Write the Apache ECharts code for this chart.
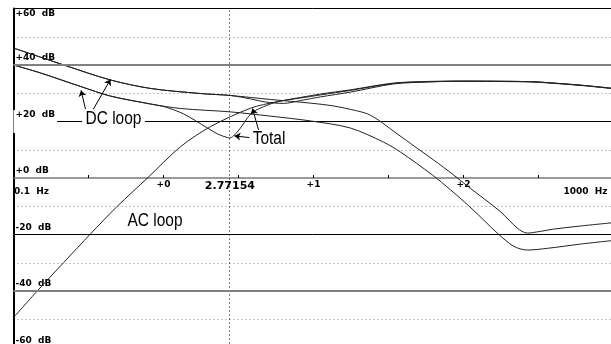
<!DOCTYPE html>
<html><head><meta charset="utf-8">
<script src="https://cdn.jsdelivr.net/npm/echarts@6/dist/echarts.min.js"></script>
<style>html,body{margin:0;padding:0;background:#fff}#c{width:611px;height:344px}</style>
</head><body><div id="c"></div>
<script>
// ---------- data (frequency in Hz, gain in dB) ----------
const dc1Freq = [0.1, 0.151, 0.222, 0.443, 0.819, 1.765, 2.80, 5.17, 9.55, 13.6, 19.0, 22.9, 27.1, 34.1, 44.4, 63.1, 85.8, 106, 177, 228, 266, 325, 398, 601, 1000];
const dc1Db   = [46.0, 42.8, 39.8, 34.7, 31.7, 29.9, 29.2, 27.8, 26.5, 25.5, 23.9, 22.7, 20.5, 16.6, 12.2, 6.4, 1.1, -2.8, -12.0, -17.7, -19.5, -18.9, -18.1, -17.0, -15.8];

const dc2Freq = [0.1, 0.151, 0.280, 0.443, 0.819, 1.30, 2.80, 5.17, 9.55, 17.6, 29.3, 38.0, 61.9, 82.0, 116, 168, 215, 266, 362, 601, 1000];
const dc2Db   = [40.0, 37.2, 32.4, 29.0, 26.2, 24.6, 23.4, 21.9, 20.2, 17.7, 12.7, 9.2, 1.1, -4.2, -11.3, -19.5, -24.1, -25.5, -24.9, -23.4, -22.1];

const acFreq = [0.1, 0.144, 0.326, 0.49, 0.782, 1.30, 2.06, 3.80, 5.74, 11.1, 17.6, 34.2, 60.2, 95.5, 279, 425, 653, 1000];
const acDb   = [-49.4, -40.0, -19.8, -10.1, 0.0, 11.1, 18.2, 24.7, 27.0, 29.7, 31.2, 33.6, 34.2, 34.3, 34.1, 33.5, 32.7, 31.7];

const total1Freq = [0.1, 0.151, 0.280, 0.443, 0.819, 1.031, 1.359, 1.965, 2.291, 2.667, 2.772, 2.929, 3.259, 3.631, 3.981, 4.642, 5.743, 8.17, 11.1, 17.6, 34.2, 60.2, 95.5, 279, 425, 653, 1000];
const total1Db   = [40.0, 37.2, 32.4, 29.0, 26.2, 25.1, 22.7, 17.7, 15.6, 14.3, 14.2, 14.9, 17.7, 21.3, 23.5, 25.2, 27.0, 28.3, 29.4, 31.0, 33.5, 34.1, 34.2, 34.0, 33.4, 32.6, 31.6];

const total2Freq = [0.1, 0.151, 0.222, 0.443, 0.819, 1.765, 2.80, 3.80, 4.78, 6.31, 8.17, 11.1, 17.6, 34.2, 60.2, 95.5, 279, 425, 653, 1000];
const total2Db   = [46.0, 42.8, 39.8, 34.7, 31.7, 29.9, 29.2, 28.0, 26.9, 26.4, 27.4, 28.7, 30.4, 33.3, 34.0, 34.3, 34.1, 33.5, 32.7, 31.7];

// tick labels
const xDecadeLabels = ['+0', '+1', '+2'];          // at 10^0, 10^1, 10^2 Hz
const xEdgeLabels = ['0.1  Hz', '1000  Hz'];
const cursorFreq = 2.77154;
const cursorLabel = '2.77154';

// annotations
const noteTexts = ['DC loop', 'AC loop', 'Total'];
const noteFreq  = [0.464, 0.877, 5.05];
const noteDb    = [21.0, -15.2, 13.8];
// arrows: from (freq, dB) to (freq, dB)
const arrowFrom = [[0.302, 24.4], [0.341, 24.4], [3.74, 14.3], [4.30, 17.0]];
const arrowTo   = [[0.282, 31.0], [0.443, 34.9], [2.97, 14.9], [3.92, 24.6]];

// ---------- chart ----------
const L = f => Math.log10(f);
const toData = (fs, ds) => fs.map((f, i) => [L(f), ds[i]]);
const near = (a, b) => Math.abs(a - b) < 1e-6;
const FONT = 'DejaVu Sans';
const yLab = v => (v >= 0 ? '+' : '') + v + '  dB';

function lineSeries(name, fs, ds, extra) {
  return Object.assign({
    name, type: 'line', xAxisIndex: 0, yAxisIndex: 0, data: toData(fs, ds),
    showSymbol: false, symbol: 'none', smooth: 0.3, silent: true, z: 2,
    lineStyle: { color: '#222', width: 1 }
  }, extra || {});
}

const xLabelValues = [-1, 0, L(cursorFreq), 1, 2, 3];
function xLabelFmt(v) {
  if (near(v, -1)) return '{l|' + xEdgeLabels[0] + '}';
  if (near(v, 3)) return '{r|' + xEdgeLabels[1] + '}';
  for (let k = 0; k < 3; k++) if (near(v, k)) return '{d|' + xDecadeLabels[k] + '}';
  return '{c|' + cursorLabel + '}';
}
const tb = { fontWeight: 'bold', fontFamily: FONT, color: '#000' };

const chart = echarts.init(document.getElementById('c'), null, { renderer: 'canvas' });
chart.setOption({
  animation: false,
  backgroundColor: '#fff',
  grid: { left: 13.5, top: 8.5, width: 600, height: 339, outerBoundsMode: 'none', containLabel: false },
  xAxis: [
    {
      type: 'value', min: -1, max: 3, interval: 0.5, position: 'bottom', offset: -169.5,
      axisLine: { show: true, onZero: false, lineStyle: { color: '#7a7a7a', width: 1.5 } },
      axisTick: { show: true, inside: true, length: 3, lineStyle: { color: '#000', width: 1 } },
      splitLine: { show: false },
      axisLabel: { show: false }
    },
    {
      type: 'value', min: -1, max: 3, position: 'bottom', offset: -169.5,
      axisLine: { show: false, onZero: false },
      axisTick: { show: false }, splitLine: { show: false },
      axisLabel: {
        show: true, customValues: xLabelValues, margin: 1, hideOverlap: false,
        color: '#000', fontFamily: FONT, fontWeight: 'bold', fontSize: 9,
        formatter: xLabelFmt,
        rich: {
          l: Object.assign({ fontSize: 9, padding: [8.5, 0, 0, 36] }, tb),
          r: Object.assign({ fontSize: 9, padding: [8.5, 56, 0, 0] }, tb),
          d: Object.assign({ fontSize: 9, padding: [1, 0, 0, 0] }, tb),
          c: Object.assign({ fontSize: 11, padding: [2, 0, 0, 0] }, tb)
        }
      }
    }
  ],
  yAxis: [
    {
      type: 'value', min: -60, max: 60, interval: 20, position: 'left', z: 0,
      axisLine: { show: true, onZero: false, lineStyle: { color: '#000', width: 2 } },
      axisTick: { show: false }, axisLabel: { show: false },
      splitLine: { show: true, lineStyle: { width: 1, color: ['#000', '#808080', '#000', 'rgba(0,0,0,0)', '#000', '#808080', '#000'] } },
      minorTick: { show: false, splitNumber: 2 },
      minorSplitLine: { show: true, lineStyle: { color: '#8a8a8a', width: 1, type: [1, 3] } }
    },
    {
      type: 'value', min: -60, max: 60, interval: 20, position: 'left', z: 1,
      axisLine: { show: false, onZero: false }, axisTick: { show: false }, splitLine: { show: false },
      axisLabel: {
        show: true, inside: true, margin: 0, verticalAlign: 'middle', hideOverlap: false,
        formatter: v => v === 60 ? '' : (v === 20 ? '{w|' : '{n|') + yLab(v) + '}',
        rich: {
          n: Object.assign({ fontSize: 9, padding: [0, 0, 14, 2] }, tb),
          w: Object.assign({ fontSize: 9, padding: [0, 2, 14, 2], backgroundColor: '#fff' }, tb)
        }
      }
    },
    {
      type: 'value', min: -60, max: 60, interval: 20, position: 'left', z: 1,
      axisLine: { show: false, onZero: false }, axisTick: { show: false }, splitLine: { show: false },
      axisLabel: {
        show: true, inside: true, margin: 2, verticalAlign: 'top', hideOverlap: false,
        fontSize: 9, fontWeight: 'bold', fontFamily: FONT, color: '#000', padding: [1, 0, 0, 0],
        formatter: v => v === 60 ? yLab(v) : ''
      }
    }
  ],
  series: [
    lineSeries('DC loop 1', dc1Freq, dc1Db),
    lineSeries('DC loop 2', dc2Freq, dc2Db),
    lineSeries('AC loop', acFreq, acDb, {
      markLine: {
        silent: true, symbol: ['none', 'none'], label: { show: false },
        lineStyle: { color: '#000', width: 1, type: [1, 3] },
        data: [{ xAxis: L(cursorFreq) }]
      }
    }),
    lineSeries('Total 1', total1Freq, total1Db, {
      markLine: {
        silent: true, symbol: ['none', 'arrow'], symbolSize: 6, label: { show: false },
        lineStyle: { color: '#000', width: 1, type: 'solid' },
        data: arrowFrom.map((a, i) => [
          { coord: [L(a[0]), a[1]] },
          { coord: [L(arrowTo[i][0]), arrowTo[i][1]] }
        ])
      }
    }),
    lineSeries('Total 2', total2Freq, total2Db, {
      markLine: {
        silent: true, symbol: ['none', 'none'], label: { show: false },
        lineStyle: { color: '#808080', width: 2, type: 'solid' },
        data: [{ yAxis: 40 }, { yAxis: -40 }]
      }
    })
  ]
});

// annotation texts, placed through the chart's own coordinate conversion
const noteScale = 0.86;
chart.setOption({
  graphic: noteTexts.map((t, i) => {
    const p = chart.convertToPixel({ xAxisIndex: 0, yAxisIndex: 0 }, [L(noteFreq[i]), noteDb[i]]);
    return {
      type: 'text', x: p[0], y: p[1], scaleX: noteScale, z: 50, silent: true,
      style: Object.assign({
        text: t, fill: '#000', font: '18px "Liberation Sans", Arial, sans-serif',
        align: 'center', verticalAlign: 'middle'
      }, i === 0 ? { backgroundColor: '#fff', padding: [0, 4] } : {})
    };
  })
});
</script>
</body></html>
